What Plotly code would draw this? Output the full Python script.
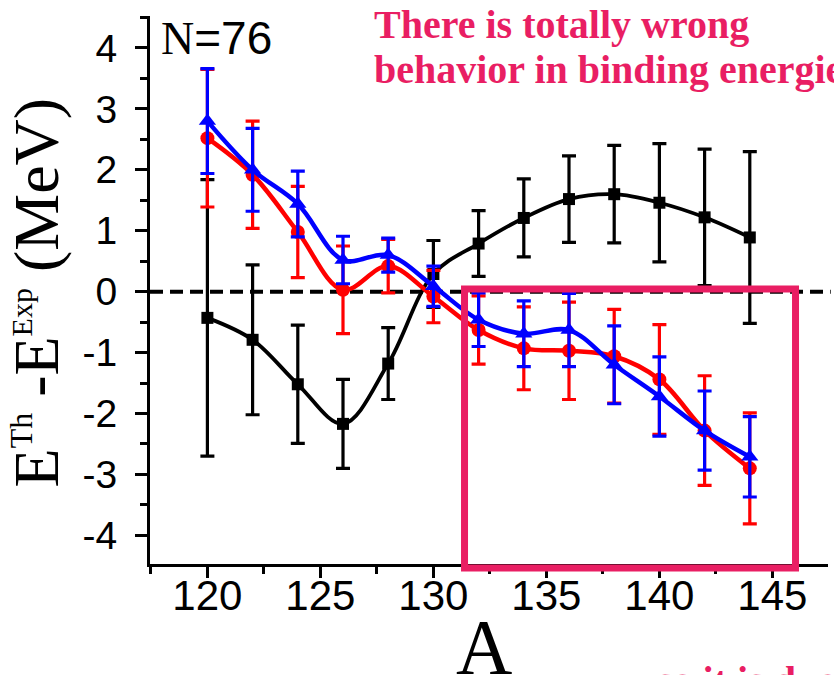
import plotly.graph_objects as go

# ---- data ----
A = [120, 122, 124, 126, 128, 130, 132, 134, 136, 138, 140, 142, 144]

black_y = [-0.43, -0.79, -1.52, -2.17, -1.18, 0.29, 0.79, 1.21, 1.52, 1.60, 1.46, 1.22, 0.89]
black_err = [2.27, 1.23, 0.97, 0.73, 0.59, 0.55, 0.54, 0.64, 0.71, 0.80, 0.97, 1.12, 1.41]

red_y = [2.52, 1.92, 0.98, 0.03, 0.42, -0.08, -0.63, -0.93, -0.97, -1.06, -1.44, -2.28, -2.90]
red_err = [1.13, 0.88, 0.75, 0.72, 0.44, 0.43, 0.56, 0.68, 0.80, 0.77, 0.90, 0.90, 0.91]

blue_y = [2.80, 2.00, 1.44, 0.52, 0.60, 0.09, -0.46, -0.69, -0.63, -1.20, -1.72, -2.28, -2.71]
blue_err = [0.86, 0.68, 0.54, 0.39, 0.28, 0.33, 0.44, 0.54, 0.60, 0.64, 0.65, 0.65, 0.66]

x_tickvals = [120, 125, 130, 135, 140, 145]
x_ticktext = ["120", "125", "130", "135", "140", "145"]
y_tickvals = [-4, -3, -2, -1, 0, 1, 2, 3, 4]
y_ticktext = ["-4", "-3", "-2", "-1", "0", "1", "2", "3", "4"]

PINK = "#E91E63"

fig = go.Figure()

def add_series(y, err, color, symbol, msize, lw):
    fig.add_trace(go.Scatter(
        x=A, y=y, mode="lines+markers",
        line=dict(color=color, width=lw, shape="spline", smoothing=1.0),
        marker=dict(color=color, symbol=symbol, size=msize, line=dict(width=0)),
        error_y=dict(type="data", array=err, visible=True, color=color,
                     thickness=3.2, width=7),
        showlegend=False, hoverinfo="skip",
    ))

add_series(black_y, black_err, "black", "square", 12, 3.8)
add_series(red_y, red_err, "#FF0000", "circle", 14, 4.5)
add_series(blue_y, blue_err, "#0000FF", "triangle-up", 15, 4.5)

# dashed zero line
fig.add_shape(type="line", xref="paper", yref="y", x0=0, x1=1.004, y0=0, y1=0,
              line=dict(color="black", width=4, dash="13px,7px"), layer="below")

# pink highlight box (annotation drawn on top of the chart, in paper units)
fig.add_shape(type="rect", xref="paper", yref="paper", x0=0.4639, x1=0.9521, y0=-0.0073, y1=0.5018,
              line=dict(color=PINK, width=7), fillcolor="rgba(0,0,0,0)", layer="above")

annos = [
    dict(text="<span style=\"font-family:Liberation Serif\">N</span>=76", x=0.014, y=0.9597,
         xanchor="left", yanchor="middle",
         font=dict(family="Liberation Sans", size=46, color="black")),
    dict(text="<b>There is totally wrong</b>", x=0.3274, y=0.9847, xanchor="left", yanchor="middle",
         font=dict(family="Liberation Serif", size=40, color=PINK)),
    dict(text="<b>behavior in binding energies</b>", x=0.3274, y=0.9026, xanchor="left", yanchor="middle",
         font=dict(family="Liberation Serif", size=40, color=PINK)),
    dict(text="<b>so it is due</b>", x=0.7448, y=-0.2120, xanchor="left", yanchor="middle",
         font=dict(family="Liberation Serif", size=40, color=PINK)),
    dict(text="A", x=0.4926, y=-0.1510, xanchor="center", yanchor="middle",
         font=dict(family="Liberation Serif", size=78, color="black")),
    dict(text="E<sup><span style=\"font-size:32px\">Th</span></sup> -E<sup><span style=\"font-size:30px\">Exp</span></sup> (MeV)",
         x=-0.166, y=0.4964, textangle=-90,
         xanchor="center", yanchor="middle",
         font=dict(family="Liberation Serif", size=64, color="black")),
]
for a in annos:
    fig.add_annotation(xref="paper", yref="paper", showarrow=False, **a)

fig.update_layout(
    width=834, height=675,
    margin=dict(l=150, r=6, t=16, b=111),
    plot_bgcolor="white", paper_bgcolor="white",
    showlegend=False,
    xaxis=dict(range=[117.46, 147.46], tickmode="array", tickvals=x_tickvals, ticktext=x_ticktext,
               ticks="outside", ticklen=11, tickwidth=3, tickcolor="black", ticklabelstandoff=-18,
               showline=True, linewidth=3, linecolor="black", showgrid=False, zeroline=False,
               tickfont=dict(family="Liberation Sans", size=42, color="black"),
               minor=dict(tickmode="linear", tick0=117.5, dtick=2.5, ticks="outside",
                          ticklen=7, tickwidth=3, tickcolor="black", showgrid=False)),
    yaxis=dict(range=[-4.47, 4.525], tickmode="array", tickvals=y_tickvals, ticktext=y_ticktext,
               ticks="outside", ticklen=12, tickwidth=3, tickcolor="black", ticklabelstandoff=10,
               showline=True, linewidth=3, linecolor="black", showgrid=False, zeroline=False,
               tickfont=dict(family="Liberation Sans", size=39, color="black"),
               minor=dict(tickmode="linear", tick0=0, dtick=0.5, ticks="outside",
                          ticklen=7, tickwidth=3, tickcolor="black", showgrid=False)),
)

fig.write_html("out.html")
